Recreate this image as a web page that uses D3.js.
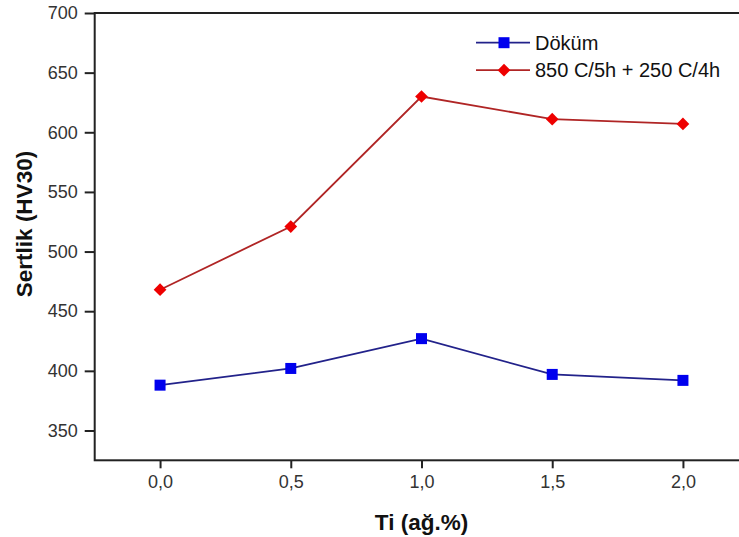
<!DOCTYPE html>
<html>
<head>
<meta charset="utf-8">
<script src="https://cdn.jsdelivr.net/npm/d3@7"></script>
<style>
  body { margin: 0; background: #fff; }
  text { font-family: "Liberation Sans", Arial, sans-serif; }
</style>
</head>
<body>
<script>
// datos
const tiValues = [0.0, 0.5, 1.0, 1.5, 2.0];
const dokum = [388, 402, 427, 397, 392];
const isilIslem = [468, 521, 630, 611, 607];
const seriesNames = ["Döküm", "850 C/5h + 250 C/4h"];
const xTicks = [0.0, 0.5, 1.0, 1.5, 2.0];
const yTicks = [350, 400, 450, 500, 550, 600, 650, 700];

const W = 739, H = 537;
const margin = { top: 13, left: 94.7, bottom: 460.3, right: 748.3 };

const svg = d3.select("body").append("svg").attr("width", W).attr("height", H);

const x = d3.scaleLinear().domain([-0.25, 2.25]).range([margin.left, margin.right]);
const y = d3.scaleLinear().domain([325, 700]).range([margin.bottom, margin.top]);

const comma = (d) => d3.format(".1f")(d).replace(".", ",");

// eje Y
const yAxis = svg.append("g")
  .attr("transform", `translate(${margin.left},0)`)
  .call(d3.axisLeft(y).tickValues(yTicks).tickSize(10).tickPadding(7).tickSizeOuter(0));
yAxis.select(".domain").remove();
yAxis.selectAll(".tick line").attr("stroke", "#222").attr("stroke-width", 2);
yAxis.selectAll(".tick text").attr("font-size", 18).attr("fill", "#333")
  .style("font-family", '"Liberation Sans", Arial, sans-serif');

// eje X
const xAxis = svg.append("g")
  .attr("transform", `translate(0,${margin.bottom})`)
  .call(d3.axisBottom(x).tickValues(xTicks).tickFormat(comma).tickSize(8).tickPadding(7).tickSizeOuter(0));
xAxis.select(".domain").remove();
xAxis.selectAll(".tick line").attr("stroke", "#222").attr("stroke-width", 2);
xAxis.selectAll(".tick text").attr("font-size", 18).attr("fill", "#333")
  .style("font-family", '"Liberation Sans", Arial, sans-serif');

// marco
svg.append("rect")
  .attr("x", margin.left).attr("y", margin.top)
  .attr("width", margin.right - margin.left).attr("height", margin.bottom - margin.top)
  .attr("fill", "none").attr("stroke", "#222").attr("stroke-width", 2);

// títulos
svg.append("text")
  .attr("x", (margin.left + margin.right) / 2).attr("y", 530)
  .attr("text-anchor", "middle").attr("font-size", 22.5).attr("font-weight", "bold")
  .attr("fill", "#111").text("Ti (ağ.%)");

svg.append("text")
  .attr("transform", "translate(32,224) rotate(-90)")
  .attr("text-anchor", "middle").attr("font-size", 22.5).attr("font-weight", "bold")
  .attr("fill", "#111").text("Sertlik (HV30)");

const line = d3.line().x((d, i) => x(tiValues[i])).y((d) => y(d));

const series = [
  { name: seriesNames[0], values: dokum, line: "#22228a", mark: "#0000ee", shape: "square" },
  { name: seriesNames[1], values: isilIslem, line: "#b02525", mark: "#ee0000", shape: "diamond" },
];

const drawMark = (g, shape, color, cx, cy) => {
  if (shape === "square") {
    g.append("rect").attr("x", cx - 5.5).attr("y", cy - 5.5).attr("width", 11).attr("height", 11)
      .attr("fill", color);
  } else {
    g.append("rect").attr("x", -4.5).attr("y", -4.5).attr("width", 9).attr("height", 9)
      .attr("fill", color).attr("transform", `translate(${cx},${cy}) rotate(45)`);
  }
};

series.forEach((s) => {
  svg.append("path").datum(s.values)
    .attr("d", line).attr("fill", "none").attr("stroke", s.line).attr("stroke-width", 1.8);
  const g = svg.append("g");
  s.values.forEach((v, i) => drawMark(g, s.shape, s.mark, x(tiValues[i]), y(v)));
});

// leyenda
series.forEach((s, i) => {
  const ly = 42.7 + i * 27.5;
  const g = svg.append("g");
  g.append("line").attr("x1", 476).attr("x2", 530).attr("y1", ly).attr("y2", ly)
    .attr("stroke", s.line).attr("stroke-width", 1.8);
  drawMark(g, s.shape, s.mark, 504, ly);
  g.append("text").attr("x", 535).attr("y", ly + 7).attr("font-size", 20)
    .attr("fill", "#111").text(s.name);
});
</script>
</body>
</html>
